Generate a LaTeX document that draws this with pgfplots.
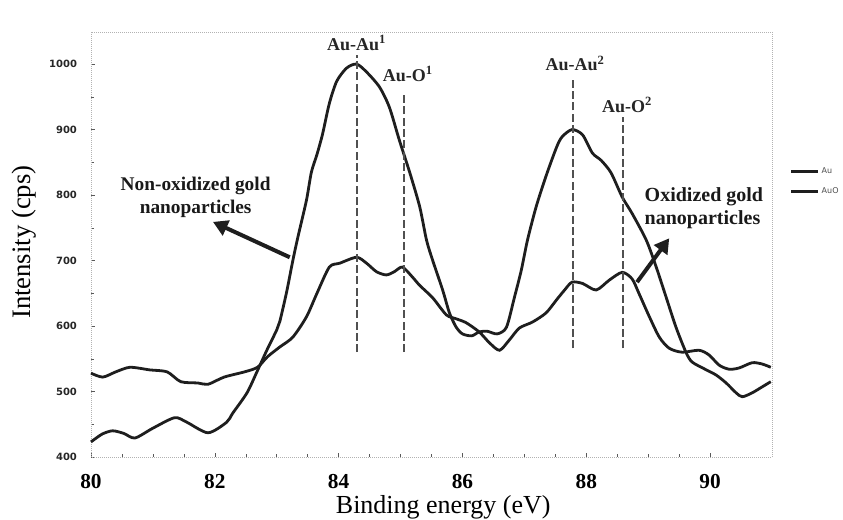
\documentclass[border=0pt]{standalone}
\usepackage{pgfplots}
\pgfplotsset{compat=1.18}
\usetikzlibrary{arrows.meta}
\usepackage{fontspec}
\setmainfont{Liberation Serif}
\newfontfamily\dejavu{DejaVu Sans}
\definecolor{curve}{HTML}{1E1E1E}
\definecolor{dashc}{HTML}{505050}
\begin{document}
\begin{tikzpicture}
\begin{axis}[
  scale only axis,
  width=510.75pt, height=318.75pt,
  xmin=80, xmax=91, ymin=400, ymax=1049,
  clip=false,
  xtick={80,82,84,86,88,90},
  minor x tick num=3,
  ytick={400,500,600,700,800,900,1000},
  minor y tick num=1,
  xtick pos=lower, ytick pos=left,
  tick align=inside,
  major tick length=3pt, minor tick length=2pt,
  every tick/.style={gray!70!black, line width=0.4pt},
  axis line style={gray!60, densely dotted, line width=0.5pt},
  xticklabel style={font=\fontsize{16}{18}\selectfont\bfseries, anchor=base, inner sep=0pt, yshift=-24pt},
  yticklabel style={font=\dejavu\bfseries\fontsize{7.5}{9}\selectfont, anchor=east, xshift=-7pt, text=black!85},
  scaled ticks=false,
  /pgf/number format/assume math mode=true,
  /pgf/number format/1000 sep={},
  legend style={at={(rel axis cs:1.026,0.648)}, anchor=west, draw=none, fill=none,
    font=\dejavu\fontsize{6}{7}\selectfont, text=black!70, row sep=5pt, inner sep=0pt},
  legend cell align=left,
  legend image code/.code={\draw[#1, line width=1.8pt] (0pt,0pt) -- (20pt,0pt);},
]
% Au (non-oxidized)
\addplot[curve, line width=2.1pt, smooth, tension=0.45] coordinates {
(80.00,423) (80.18,435) (80.35,440) (80.53,436) (80.71,429) (81.00,444) (81.35,460) (81.55,453)
(81.89,437) (82.19,453) (82.29,467) (82.52,498) (82.68,530) (82.84,563) (83.00,594) (83.05,607)
(83.16,652) (83.26,700) (83.34,735) (83.48,792) (83.56,835) (83.65,862) (83.74,893) (83.85,940)
(83.97,974) (84.13,994) (84.29,1000) (84.45,988) (84.66,965) (84.82,934) (84.98,884) (85.15,834)
(85.31,782) (85.42,731) (85.52,700) (85.68,655) (85.79,620) (85.90,598) (86.00,588) (86.15,585)
(86.27,591) (86.40,592) (86.56,588) (86.71,598) (86.84,644) (86.95,685) (87.05,731) (87.19,782)
(87.35,829) (87.52,873) (87.61,889) (87.77,900) (87.94,892) (88.10,864) (88.24,853) (88.40,834)
(88.58,797) (88.74,772) (88.97,731) (89.13,690) (89.29,644) (89.45,598) (89.61,560) (89.71,545)
(89.94,533) (90.10,525) (90.26,513) (90.42,498) (90.52,492) (90.68,498) (90.84,507) (90.98,515)
};
\addlegendentry{Au}
% AuO (oxidized)
\addplot[curve, line width=2.1pt, smooth, tension=0.45] coordinates {
(80.00,528) (80.19,522) (80.40,530) (80.63,537) (80.95,533) (81.23,530) (81.45,515) (81.73,513)
(81.89,511) (82.15,522) (82.48,530) (82.69,537) (82.85,553) (83.05,568) (83.26,583) (83.48,614)
(83.65,650) (83.85,690) (84.02,696) (84.29,705) (84.45,696) (84.61,683) (84.77,678) (84.90,683)
(85.03,690) (85.19,675) (85.31,662) (85.52,643) (85.74,617) (85.90,611) (86.06,605) (86.27,591)
(86.44,574) (86.60,563) (86.76,579) (86.92,597) (87.13,606) (87.35,620) (87.52,640) (87.65,655)
(87.77,667) (87.94,665) (88.16,655) (88.37,670) (88.58,682) (88.74,672) (88.85,650) (89.02,614)
(89.18,583) (89.34,566) (89.55,560) (89.82,563) (89.98,556) (90.15,540) (90.31,534) (90.47,536)
(90.68,544) (90.84,542) (90.98,537)
};
\addlegendentry{AuO}
% dashed reference lines
\addplot[forget plot, dashc, line width=1.5pt, dash pattern=on 6pt off 2.5pt] coordinates {(84.29,560) (84.29,1014)};
\addplot[forget plot, dashc, line width=1.5pt, dash pattern=on 6pt off 2.5pt] coordinates {(85.06,560) (85.06,957)};
\addplot[forget plot, dashc, line width=1.5pt, dash pattern=on 6pt off 2.5pt] coordinates {(87.79,566) (87.79,976)};
\addplot[forget plot, dashc, line width=1.5pt, dash pattern=on 6pt off 2.5pt] coordinates {(88.60,566) (88.60,919)};
% peak labels
\node[font=\fontsize{13.5}{15}\selectfont\bfseries, text=black!85] at (axis cs:84.29,1032) {Au-Au\textsuperscript{1}};
\node[font=\fontsize{13.5}{15}\selectfont\bfseries, text=black!85] at (axis cs:85.12,985) {Au-O\textsuperscript{1}};
\node[font=\fontsize{13.5}{15}\selectfont\bfseries, text=black!85] at (axis cs:87.82,1001) {Au-Au\textsuperscript{2}};
\node[font=\fontsize{13.5}{15}\selectfont\bfseries, text=black!85] at (axis cs:88.66,937) {Au-O\textsuperscript{2}};
% annotations
\node[font=\fontsize{14.5}{17}\selectfont\bfseries, align=center, text=black!90] at (axis cs:81.69,797) {Non-oxidized gold\\nanoparticles};
\node[font=\fontsize{15}{17}\selectfont\bfseries, align=left, anchor=west, inner sep=0pt, text=black!90] at (axis cs:88.94,780) {Oxidized gold\\nanoparticles};
\draw[line width=3pt, curve, -{Triangle[length=11pt,width=12pt]}] (axis cs:83.21,705) -- (axis cs:81.97,759);
\draw[line width=3pt, curve, -{Triangle[length=11pt,width=12pt]}] (axis cs:88.82,667) -- (axis cs:89.34,734);
% axis titles
\node[font=\fontsize{20}{22}\selectfont, rotate=90, anchor=base] at (axis cs:79.02,728) {Intensity (cps)};
\node[font=\fontsize{19.5}{22}\selectfont, anchor=base, inner sep=0pt] at (axis cs:85.69,313) {Binding energy (eV)};
\end{axis}
\pgfresetboundingbox
\path[use as bounding box] ([xshift=-68.25pt,yshift=-47.25pt]current axis.south west) rectangle ([xshift=53.25pt,yshift=24pt]current axis.north east);
\end{tikzpicture}
\end{document}
